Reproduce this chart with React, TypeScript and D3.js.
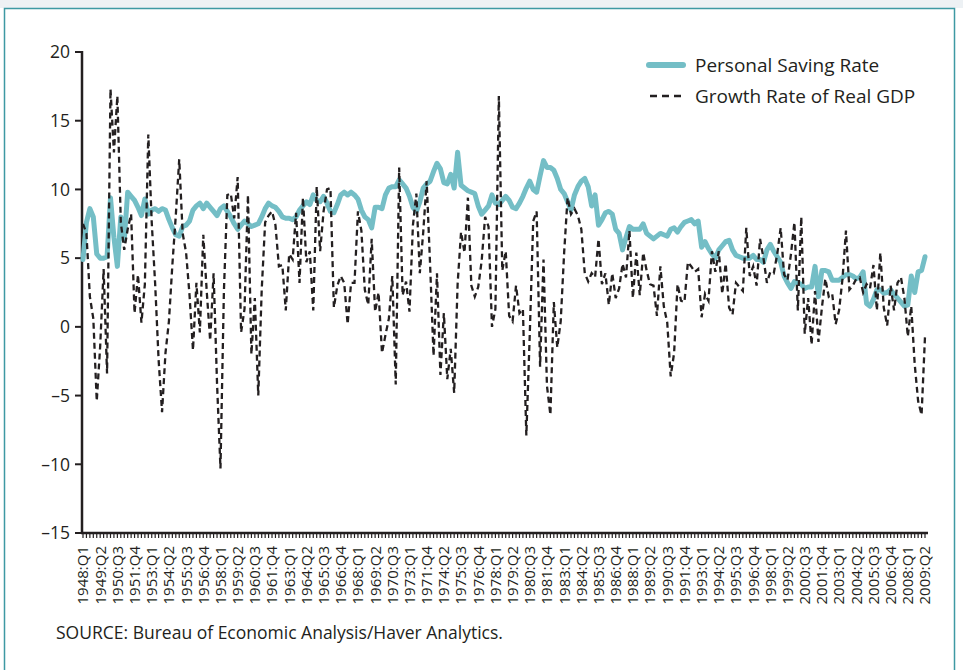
import React from "react";
import * as d3 from "d3";

// quarters 1948:Q1 .. 2009:Q2
const years = d3.range(1948, 2010);
const quarters = years
  .flatMap((yr) => ["Q1", "Q2", "Q3", "Q4"].map((q) => `${yr}:${q}`))
  .slice(0, 246);

// personal saving rate, percent
const savingRate = [
  4.9, 7.6, 8.6, 8.0, // 1948
  5.3, 5.0, 5.0, 5.1,
  9.4, 6.5, 4.4, 8.0, // 1950
  6.3, 9.8, 9.5, 9.2,
  8.7, 8.1, 9.3, 8.2,
  8.5, 8.6, 8.4, 8.6,
  8.5, 7.8, 7.2, 6.7,
  6.6, 7.3, 7.4, 7.7, // 1955
  8.5, 8.8, 9.0, 8.6,
  9.0, 8.7, 8.4, 8.1,
  8.6, 8.8, 8.4, 8.0,
  7.5, 7.1, 7.4, 7.7,
  7.5, 7.3, 7.4, 7.5, // 1960
  8.0, 8.6, 9.0, 8.8,
  8.7, 8.4, 8.0, 7.9,
  7.9, 7.8, 8.0, 8.5,
  8.8, 9.1, 8.9, 9.6,
  9.2, 9.1, 9.5, 9.0, // 1965
  8.4, 8.3, 8.9, 9.6,
  9.8, 9.6, 9.8, 9.6,
  9.3, 8.5, 8.0, 7.8,
  7.2, 8.7, 8.7, 8.6,
  9.6, 10.1, 10.2, 10.2, // 1970
  10.7, 10.4, 10.1, 9.5,
  8.7, 8.4, 9.1, 10.1,
  10.4, 10.6, 11.3, 11.9,
  11.5, 10.5, 10.4, 11.1,
  10.1, 12.7, 10.3, 10.1, // 1975
  9.9, 9.8, 9.7, 8.8,
  8.2, 8.5, 8.8, 9.6,
  9.0, 8.9, 9.2, 9.5,
  9.2, 8.7, 8.6, 9.0,
  9.5, 10.1, 10.6, 10.0, // 1980
  9.8, 11.0, 12.1, 11.6,
  11.6, 11.4, 10.8, 10.0,
  9.7, 9.1, 8.5, 9.6,
  10.2, 10.6, 10.8, 10.2,
  8.8, 9.6, 7.4, 7.8, // 1985
  8.3, 8.4, 8.2, 7.1,
  6.8, 5.6, 6.5, 7.3,
  7.1, 7.1, 7.1, 7.5,
  6.8, 6.6, 6.4, 6.6,
  6.8, 6.7, 6.6, 7.1, // 1990
  7.2, 6.9, 7.3, 7.6,
  7.7, 7.8, 7.5, 7.7,
  5.8, 6.2, 5.7, 5.3,
  5.0, 5.6, 5.9, 6.2,
  6.3, 5.6, 5.2, 5.1, // 1995
  5.0, 5.0, 5.0, 5.2,
  4.9, 4.9, 4.7, 5.6,
  6.0, 5.5, 5.1, 4.7,
  3.7, 3.2, 2.8, 3.3,
  3.2, 3.1, 2.8, 2.9, // 2000
  2.9, 4.4, 2.2, 4.1,
  4.1, 4.0, 3.4, 3.4,
  3.4, 3.6, 3.8, 3.8,
  3.7, 3.5, 3.6, 4.0,
  1.7, 1.5, 2.0, 2.7, // 2005
  2.7, 2.45, 2.5, 2.7,
  2.35, 2.1, 1.8, 1.5,
  1.6, 3.7, 2.5, 4.0,
  4.1, 5.1, // 2009
];

// growth rate of real GDP, annualized percent
const gdpGrowth = [
  7.5, 6.8, 2.2, 0.6, // 1948
  -5.4, -1.4, 4.2, -3.4,
  17.3, 12.7, 16.8, 7.6, // 1950
  5.6, 7.1, 8.2, 1.0,
  3.8, 0.3, 3.1, 14.0,
  7.6, 3.1, -2.4, -6.2,
  -1.9, 0.4, 4.5, 8.1,
  12.2, 6.8, 5.4, 2.3, // 1955
  -1.7, 3.2, -0.4, 6.7,
  2.6, -1.0, 3.9, -4.1,
  -10.3, 2.6, 9.6, 9.7,
  7.9, 10.9, -0.4, 1.3,
  9.6, -2.0, 2.1, -5.0, // 1960
  2.7, 7.6, 8.1, 8.4,
  7.4, 4.4, 4.5, 1.2,
  5.3, 4.9, 8.3, 3.2,
  9.4, 4.7, 5.5, 1.2,
  10.2, 5.5, 8.4, 10.0, // 1965
  10.1, 1.4, 3.0, 3.7,
  3.2, 0.2, 3.2, 3.2,
  8.4, 7.0, 2.7, 1.6,
  6.4, 1.1, 2.5, -1.9,
  -0.6, 0.6, 3.7, -4.2, // 1970
  11.6, 2.3, 3.3, 1.1,
  7.4, 9.7, 3.9, 6.9,
  10.6, 4.5, -2.1, 3.9,
  -3.5, 1.0, -3.8, -1.6,
  -4.8, 3.1, 6.9, 5.4, // 1975
  9.4, 3.0, 2.2, 2.9,
  4.8, 8.0, 7.3, 0.0,
  1.3, 16.8, 4.1, 5.5,
  0.8, 0.4, 3.0, 1.0,
  1.3, -7.9, -0.5, 7.7, // 1980
  8.4, -2.9, 4.9, -4.3,
  -6.4, 1.8, -1.5, 0.4,
  5.4, 9.4, 8.2, 8.6,
  8.1, 7.1, 3.9, 3.3,
  3.9, 3.6, 6.4, 3.1, // 1985
  3.9, 1.6, 3.9, 2.1,
  2.8, 4.6, 3.6, 7.0,
  2.1, 5.4, 2.3, 5.4,
  4.1, 3.1, 3.0, 0.8,
  4.4, 1.5, 0.3, -3.6, // 1990
  -1.9, 3.1, 1.9, 1.8,
  4.7, 4.4, 4.0, 4.2,
  0.7, 2.4, 1.9, 5.5,
  4.0, 5.5, 2.4, 4.6,
  1.4, 0.9, 3.2, 2.9, // 1995
  2.6, 7.2, 3.7, 4.4,
  3.0, 6.4, 5.0, 3.2,
  4.0, 3.9, 5.3, 7.2,
  3.8, 3.4, 5.3, 7.6,
  1.2, 8.0, -0.5, 2.1, // 2000
  -1.3, 2.6, -1.1, 1.4,
  3.5, 2.2, 2.4, 0.2,
  1.2, 3.5, 7.0, 2.7,
  3.0, 3.5, 3.6, 2.5,
  3.1, 2.8, 4.5, 1.2, // 2005
  5.4, 1.4, 0.1, 3.0,
  1.2, 3.2, 3.6, 2.1,
  -0.7, 1.5, -2.7, -5.4,
  -6.4, -0.7, // 2009
];

// labels every fifth quarter, as printed (incl. the swapped 1973/1971 pair)
const tickLabels = [
  "1948:Q1", "1949:Q2", "1950:Q3", "1951:Q4", "1953:Q1", "1954:Q2", "1955:Q3",
  "1956:Q4", "1958:Q1", "1959:Q2", "1960:Q3", "1961:Q4", "1963:Q1", "1964:Q2",
  "1965:Q3", "1966:Q4", "1968:Q1", "1969:Q2", "1970:Q3", "1973:Q1", "1971:Q4",
  "1974:Q2", "1975:Q3", "1976:Q4", "1978:Q1", "1979:Q2", "1980:Q3", "1981:Q4",
  "1983:Q1", "1984:Q2", "1985:Q3", "1986:Q4", "1988:Q1", "1989:Q2", "1990:Q3",
  "1991:Q4", "1993:Q1", "1994:Q2", "1995:Q3", "1996:Q4", "1998:Q1", "1999:Q2",
  "2000:Q3", "2001:Q4", "2003:Q1", "2004:Q2", "2005:Q3", "2006:Q4", "2008:Q1",
  "2009:Q2",
];
const yTicks = [20, 15, 10, 5, 0, -5, -10, -15];
const seriesNames = ["Personal Saving Rate", "Growth Rate of Real GDP"];

const TEAL = "#74bec6";
const INK = "#231f20";

export default function App() {
  const W = 963, H = 670;
  const left = 83, right = 925, top = 52, bottom = 533;

  const x = d3.scaleLinear().domain([0, quarters.length - 1]).range([left, right]);
  const y = d3.scaleLinear().domain([-15, 20]).range([bottom, top]);
  const line = d3.line<number>().x((_, i) => x(i)).y((d) => y(d));

  return (
    <svg
      width={W}
      height={H}
      style={{ position: "absolute", left: 0, top: 0, background: "#fff" }}
      fontFamily="'Open Sans', sans-serif"
    >
      {/* frame */}
      <rect x={0} y={0} width={W} height={8} fill="#edf1f4" />
      <rect x={4.5} y={8.5} width={950} height={700} fill="#fff" stroke="#3d99a3" strokeWidth={1.5} />

      {/* y axis */}
      <line x1={82} x2={82} y1={top - 1} y2={bottom + 1} stroke={INK} strokeWidth={2.5} />
      {yTicks.map((t) => (
        <g key={t}>
          <line x1={75} x2={82} y1={y(t)} y2={y(t)} stroke={INK} strokeWidth={2} />
          <text x={70} y={y(t)} dy="0.36em" textAnchor="end" fontSize={17.5} fill={INK}>
            {t < 0 ? "\u2013" + Math.abs(t) : t}
          </text>
        </g>
      ))}

      {/* x axis with a tick every quarter */}
      <line x1={81} x2={928} y1={bottom} y2={bottom} stroke={INK} strokeWidth={2.5} />
      {quarters.map((q, i) => (
        <line key={q} x1={x(i)} x2={x(i)} y1={bottom} y2={bottom + 5} stroke={INK} strokeWidth={1.2} />
      ))}
      {tickLabels.map((lab, k) => (
        <text
          key={k}
          transform={`translate(${x(k * 5)},${bottom + 13}) rotate(-90)`}
          dy="0.36em"
          textAnchor="end"
          fontSize={15}
          fill={INK}
        >
          {lab}
        </text>
      ))}

      {/* series */}
      <path d={line(savingRate) ?? ""} fill="none" stroke={TEAL} strokeWidth={5} strokeLinejoin="round" strokeLinecap="round" />
      <path d={line(gdpGrowth) ?? ""} fill="none" stroke={INK} strokeWidth={2.3} strokeDasharray="6 4" />

      {/* legend */}
      <line x1={649} x2={683} y1={65} y2={65} stroke={TEAL} strokeWidth={6} strokeLinecap="round" />
      <text x={695} y={72} fontSize={19} fill={INK}>{seriesNames[0]}</text>
      <line x1={650} x2={684} y1={96} y2={96} stroke={INK} strokeWidth={2.3} strokeDasharray="7 5" />
      <text x={695} y={103} fontSize={19} fill={INK}>{seriesNames[1]}</text>

      {/* source */}
      <text x={56} y={639} fontSize={17.5} fill={INK}>
        SOURCE: Bureau of Economic Analysis/Haver Analytics.
      </text>
    </svg>
  );
}
